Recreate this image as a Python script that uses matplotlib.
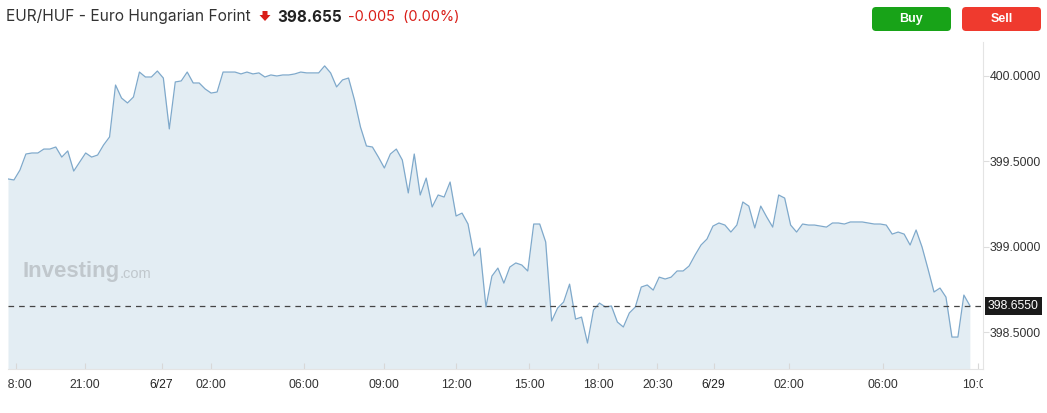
"""EUR/HUF intraday chart in the investing.com style."""

import matplotlib

matplotlib.use("Agg")

import matplotlib.pyplot as plt
import numpy as np
from matplotlib.patches import FancyBboxPatch, Polygon
from matplotlib.transforms import Bbox


PAIR_TITLE = "EUR/HUF - Euro Hungarian Forint"
LAST_PRICE = 398.655
CHANGE_TEXT = "-0.005  (0.00%)"

# one reading per bar
prices = [
    399.397, 399.391, 399.449, 399.543, 399.549, 399.549, 399.572, 399.572,
    399.584, 399.525, 399.561, 399.443, 399.496, 399.549, 399.525, 399.537,
    399.596, 399.643, 399.947, 399.871, 399.842, 399.877, 400.023, 399.994,
    399.994, 400.029, 399.988, 399.690, 399.965, 399.971, 400.023, 399.959,
    399.959, 399.924, 399.900, 399.906, 400.023, 400.023, 400.023, 400.012,
    400.023, 400.012, 400.018, 399.994, 400.006, 400.000, 400.006, 400.006,
    400.012, 400.023, 400.018, 400.018, 400.018, 400.059, 400.018, 399.936,
    399.977, 399.988, 399.859, 399.701, 399.590, 399.584, 399.525, 399.461,
    399.543, 399.572, 399.508, 399.315, 399.543, 399.303, 399.402, 399.233,
    399.303, 399.291, 399.379, 399.180, 399.197, 399.133, 398.946, 398.992,
    398.647, 398.828, 398.875, 398.787, 398.881, 398.905, 398.893, 398.858,
    399.133, 399.133, 399.028, 398.565, 398.641, 398.676, 398.781, 398.576,
    398.588, 398.436, 398.629, 398.670, 398.647, 398.653, 398.559, 398.530,
    398.612, 398.647, 398.764, 398.776, 398.746, 398.822, 398.811, 398.822,
    398.858, 398.858, 398.887, 398.951, 399.010, 399.045, 399.121, 399.139,
    399.127, 399.086, 399.127, 399.262, 399.238, 399.110, 399.238, 399.174,
    399.115, 399.303, 399.285, 399.127, 399.086, 399.133, 399.127, 399.127,
    399.121, 399.115, 399.139, 399.139, 399.133, 399.145, 399.145, 399.145,
    399.139, 399.133, 399.133, 399.127, 399.074, 399.086, 399.074, 399.010,
    399.098, 398.998, 398.869, 398.735, 398.758, 398.705, 398.471, 398.471,
    398.717, 398.655,
]

# bar position of each time label
tick_pos = [1.4, 12.85, 25.7, 34.0, 49.6, 63.0, 75.0, 87.2, 98.8, 108.7,
            118.1, 130.7, 146.5, 162.3]
tick_labels = ["18:00", "21:00", "6/27", "02:00", "06:00", "09:00", "12:00",
               "15:00", "18:00", "20:30", "6/29", "02:00", "06:00", "10:00"]
bold_ticks = {"6/27", "6/29"}

y_ticks = [398.5, 399.0, 399.5, 400.0]

W, H = 1047, 413
LINE = "#7fa9cb"
FILL = "#e3edf3"
TEXT = "#333333"
RED = "#d91e18"
WATERMARK = "#c0c7cc"


def main() -> None:
    fig = plt.figure(figsize=(W / 100, H / 100), dpi=100)
    fig.patch.set_facecolor("white")

    # plot area: x 8..983, y 42..369 in pixels
    ax = fig.add_axes([8 / W, 1 - 369 / H, 975 / W, 327 / H])
    x = np.arange(len(prices))
    ax.fill_between(x, prices, 398.0, color=FILL, lw=0)
    ax.plot(x, prices, color=LINE, lw=0.9)
    ax.axhline(LAST_PRICE, color="#444444", lw=0.9, ls=(0, (4.5, 4)))
    ax.set_xlim(0, 163.2)
    ax.set_ylim(398.284, 400.199)

    for side in ("top", "left"):
        ax.spines[side].set_visible(False)
    ax.spines["right"].set_color("#e4e4e4")
    ax.spines["bottom"].set_color("#e4e4e4")

    ax.yaxis.tick_right()
    ax.set_yticks(y_ticks)
    ax.set_yticklabels([f"{v:.4f}" for v in y_ticks])
    ax.tick_params(axis="y", length=4, color="#dddddd", pad=1,
                   labelsize=8.8, labelcolor=TEXT)
    ax.set_xticks(tick_pos)
    ax.set_xticklabels(tick_labels)
    ax.tick_params(axis="x", length=4, direction="in", color="#d8d8d8",
                   pad=7, labelsize=8.8, labelcolor=TEXT)

    # the widget cuts the edge labels at the plot borders
    label_clip = Bbox.from_extents(8, 0, 983, H)
    for lbl in ax.get_xticklabels():
        lbl.set_family("Liberation Sans")
        lbl.set_clip_box(label_clip)
        lbl.set_clip_on(True)
        if lbl.get_text() in bold_ticks:
            lbl.set_color("#222222")
    for lbl in ax.get_yticklabels():
        lbl.set_family("Liberation Sans")

    # current price tag
    ax.annotate(
        f"{LAST_PRICE:.4f}", xy=(1.0, LAST_PRICE), xycoords=("axes fraction", "data"),
        xytext=(3.5, 0), textcoords="offset points", ha="left", va="center",
        fontsize=8.8, family="Liberation Sans", color="white",
        bbox=dict(boxstyle="square,pad=0.25", fc="#1a1a1a", ec="none"),
        annotation_clip=False,
    )

    # watermark
    brand = ax.text(0.0145, 0.297, "Investing", transform=ax.transAxes,
                    fontsize=16, fontweight="bold", color=WATERMARK,
                    family="Liberation Sans", va="center", ha="left")
    ax.annotate(".com", xy=(1.0, 0.08), xycoords=brand, xytext=(0.5, 0),
                textcoords="offset points", fontsize=10.5, color=WATERMARK,
                family="Liberation Sans", va="bottom", ha="left")

    # header overlay in pixel units
    top = fig.add_axes([0, 0, 1, 1], zorder=5)
    top.set_xlim(0, W)
    top.set_ylim(H, 0)
    top.axis("off")
    top.patch.set_alpha(0)

    top.text(6, 17, PAIR_TITLE, fontsize=11.15, color=TEXT, family="Inter",
             va="center", ha="left")
    top.add_patch(Polygon([[262.5, 11], [267.5, 11], [267.5, 15], [270.5, 15],
                           [265, 21], [259.5, 15], [262.5, 15]],
                          closed=True, color=RED, lw=0))
    top.text(277, 17, f"{LAST_PRICE:.3f}", fontsize=11, fontweight="bold",
             color="#222222", family="Inter", va="center", ha="left")
    top.text(348, 17, CHANGE_TEXT, fontsize=10.5, color=RED, family="Inter",
             va="center", ha="left")

    for x0, label, color in ((872, "Buy", "#18a318"), (962, "Sell", "#ef3a2e")):
        top.add_patch(FancyBboxPatch((x0, 7), 79, 24,
                                     boxstyle="round,pad=0,rounding_size=4",
                                     fc=color, ec="none"))
        top.text(x0 + 39.5, 19, label, fontsize=9, fontweight="bold",
                 color="white", family="Liberation Sans", ha="center", va="center")

    fig.savefig("out.png", dpi=100)
    plt.close(fig)


if __name__ == "__main__":
    main()
